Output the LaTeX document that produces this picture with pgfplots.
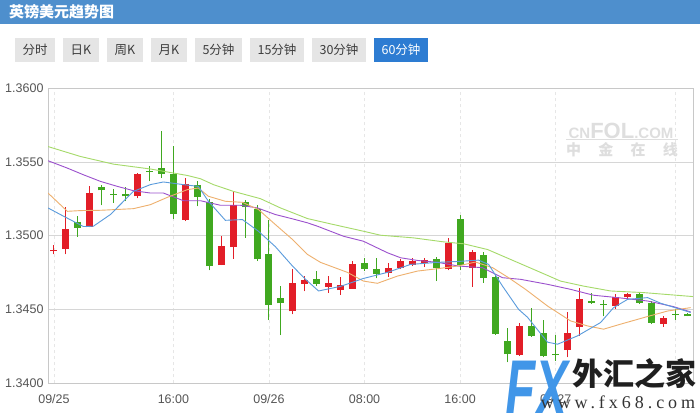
\documentclass[border=0pt]{standalone}
\usepackage{fontspec}
\setmainfont{Liberation Sans}
\newfontfamily\cjk{Noto Sans CJK SC}
\newfontfamily\fxserif[LetterSpace=22]{Liberation Serif}
\usepackage{pgfplots}
\pgfplotsset{compat=1.18}
\usepackage{pgfplotstable}

\definecolor{hdr}{RGB}{78,143,205}
\definecolor{btn}{RGB}{229,229,229}
\definecolor{btntxt}{RGB}{60,60,60}
\definecolor{btnact}{RGB}{45,124,210}
\definecolor{cRed}{RGB}{226,30,40}
\definecolor{cGreen}{RGB}{64,168,32}
\definecolor{maBlue}{RGB}{90,155,220}
\definecolor{maOrange}{RGB}{238,176,110}
\definecolor{maPurple}{RGB}{155,80,205}
\definecolor{maGreen}{RGB}{165,218,105}
\definecolor{gridc}{RGB}{214,214,214}
\definecolor{axc}{RGB}{200,200,200}
\definecolor{lbl}{RGB}{85,85,85}
\definecolor{wm}{RGB}{222,222,222}
\definecolor{fxblue}{RGB}{65,150,232}

% red candles: x low bodybottom bodytop high
\pgfplotstableread{
x lo bb bt hi
0 1.34872 1.34892 1.34902 1.34939
1 1.34872 1.34910 1.35041 1.35194
3 1.35056 1.35056 1.35291 1.35333
7 1.35252 1.35266 1.35419 1.35424
11 1.35097 1.35108 1.35351 1.35390
14 1.34799 1.34799 1.34932 1.35000
15 1.34843 1.34921 1.35209 1.35299
20 1.34466 1.34486 1.34676 1.34770
21 1.34622 1.34670 1.34699 1.34726
23 1.34613 1.34653 1.34676 1.34725
24 1.34597 1.34630 1.34662 1.34721
25 1.34640 1.34640 1.34804 1.34826
28 1.34721 1.34743 1.34782 1.34811
29 1.34775 1.34782 1.34826 1.34838
30 1.34793 1.34802 1.34826 1.34845
31 1.34786 1.34811 1.34836 1.34849
33 1.34764 1.34770 1.34946 1.34984
35 1.34653 1.34779 1.34887 1.34901
39 1.34184 1.34191 1.34385 1.34410
43 1.34174 1.34223 1.34338 1.34484
44 1.34320 1.34383 1.34568 1.34642
47 1.34505 1.34522 1.34586 1.34601
48 1.34568 1.34586 1.34601 1.34613
51 1.34383 1.34403 1.34444 1.34455
}\redtab

% green candles
\pgfplotstableread{
x lo bb bt hi
2 1.34991 1.35052 1.35093 1.35130
4 1.35205 1.35306 1.35326 1.35345
5 1.35221 1.35275 1.35284 1.35318
6 1.35232 1.35266 1.35284 1.35326
8 1.35367 1.35430 1.35439 1.35468
9 1.35390 1.35419 1.35457 1.35711
10 1.35115 1.35149 1.35417 1.35610
12 1.35198 1.35261 1.35345 1.35372
13 1.34764 1.34793 1.35228 1.35248
16 1.34984 1.35191 1.35228 1.35243
17 1.34826 1.34838 1.35180 1.35209
18 1.34426 1.34529 1.34872 1.35108
19 1.34324 1.34540 1.34574 1.34657
22 1.34657 1.34674 1.34703 1.34759
26 1.34759 1.34772 1.34811 1.34849
27 1.34709 1.34738 1.34775 1.34849
32 1.34691 1.34777 1.34843 1.34856
34 1.34764 1.34797 1.35115 1.35142
36 1.34680 1.34711 1.34865 1.34887
37 1.34328 1.34331 1.34718 1.34736
38 1.34140 1.34196 1.34282 1.34376
40 1.34314 1.34320 1.34387 1.34507
41 1.34174 1.34180 1.34338 1.34428
42 1.34151 1.34189 1.34196 1.34324
45 1.34538 1.34543 1.34556 1.34613
46 1.34451 1.34529 1.34534 1.34563
49 1.34538 1.34545 1.34601 1.34617
50 1.34399 1.34410 1.34545 1.34556
52 1.34428 1.34464 1.34471 1.34500
53 1.34451 1.34451 1.34466 1.34478
}\greentab

\begin{document}
\begin{tikzpicture}[x=1bp,y=1bp]
\useasboundingbox (0,0) rectangle (700,-412);
\fill[white] (0,0) rectangle (700,-412);
% header
\fill[hdr] (0,0) rectangle (700,-24);
\node[anchor=west, text=white, inner sep=0pt, font=\cjk\bfseries\fontsize{15bp}{17bp}\selectfont] at (9,-12) {英镑美元趋势图};
% buttons
\foreach \a/\b/\t in {15/55/分时, 63/99/日K, 107/143/周K, 151/187/月K, 195/242/5分钟, 250/304/15分钟, 312/366/30分钟}{
  \fill[btn] (\a,-38) rectangle (\b,-62);
  \node[text=btntxt, inner sep=0pt, font=\cjk\fontsize{12.5bp}{14bp}\selectfont] at ({(\a+\b)/2},-50) {\t};
}
\fill[btnact] (374,-38) rectangle (428,-62);
\node[text=white, inner sep=0pt, font=\cjk\fontsize{12.5bp}{14bp}\selectfont] at (401,-50) {60分钟};
% watermark
\node[text=wm, inner sep=0pt, font=\bfseries] at (621,-131) {{\fontsize{15bp}{15bp}\selectfont CN}{\fontsize{22bp}{22bp}\selectfont FOL}{\fontsize{15bp}{15bp}\selectfont .COM}};
\draw[wm, line width=0.8bp] (566,-139) -- (678,-139);
\node[text=wm, inner sep=0pt, font=\cjk\bfseries\fontsize{15bp}{15bp}\selectfont] at (622,-150) {\makebox[112bp][s]{中\hfill 金\hfill 在\hfill 线}};

\begin{axis}[
  at={(48bp,-383bp)}, anchor=south west,
  scale only axis, width=645bp, height=295bp,
  xmin=-0.5, xmax=53.5, ymin=1.34, ymax=1.36,
  ytick={1.34,1.345,1.35,1.355,1.36},
  xtick={0,10,18,26,34,42,52},
  xticklabels={09/25,16:00,09/26,08:00,16:00,09/27,{}},
  yticklabel style={xshift=-1bp, /pgf/number format/.cd, fixed, fixed zerofill, precision=4, assume math mode=true},
  ticklabel style={font=\fontsize{12.5bp}{14bp}\selectfont, text=lbl},
  xticklabel style={yshift=-8bp},
  major tick length=0pt,
  axis line style={axc},
  xmajorgrids, ymajorgrids,
  major x grid style={draw=gridc!60, dash pattern=on 3bp off 3bp},
  major y grid style={draw=gridc},
]
% wicks
\addplot[draw=none, forget plot, error bars/.cd, y dir=plus, y explicit, error mark=none,
  error bar style={line width=1bp, draw=cRed}]
  table[x=x, y=lo, y error plus expr={\thisrow{hi}-\thisrow{lo}}] {\redtab};
\addplot[draw=none, forget plot, error bars/.cd, y dir=plus, y explicit, error mark=none,
  error bar style={line width=1bp, draw=cGreen}]
  table[x=x, y=lo, y error plus expr={\thisrow{hi}-\thisrow{lo}}] {\greentab};
% bodies
\addplot[draw=none, forget plot, error bars/.cd, y dir=plus, y explicit, error mark=none,
  error bar style={line width=7bp, draw=cRed}]
  table[x=x, y=bb, y error plus expr={\thisrow{bt}-\thisrow{bb}}] {\redtab};
\addplot[draw=none, forget plot, error bars/.cd, y dir=plus, y explicit, error mark=none,
  error bar style={line width=7bp, draw=cGreen}]
  table[x=x, y=bb, y error plus expr={\thisrow{bt}-\thisrow{bb}}] {\greentab};
% moving averages
\addplot[maGreen, line width=0.9bp, mark=none] coordinates {
(-0.5,1.35603) (2.21,1.35536) (4.97,1.35484) (8.07,1.35451) (11.17,1.35407) (12.26,1.35385)
(13.35,1.35345) (15.03,1.35299) (17.28,1.35250) (18.96,1.35187) (21.22,1.35115) (23.15,1.35079)
(25.91,1.35029) (27.34,1.35002) (30.1,1.34984) (32.61,1.34957) (34.29,1.34944) (36.3,1.34905)
(38.22,1.34838) (40.48,1.34759) (42.41,1.34691) (44.34,1.34657) (46.6,1.34624) (49.36,1.34613)
(53.5,1.34586)};
\addplot[maPurple, line width=0.9bp, mark=none] coordinates {
(-0.5,1.35507) (1.12,1.35457) (2.46,1.35412) (3.89,1.35367) (5.31,1.35333) (6.65,1.35304)
(8.07,1.35288) (9.16,1.35288) (10.84,1.35236) (12.26,1.35236) (13.94,1.35205) (15.61,1.35205)
(17.04,1.35187) (18.54,1.35142) (19.97,1.35113) (21.22,1.35086) (22.06,1.35063) (24.24,1.34995)
(25.91,1.34961) (27.92,1.34883) (29.02,1.34849) (30.44,1.34831) (32.12,1.34818) (33.87,1.34793)
(35.88,1.34782) (37.55,1.34714) (39.06,1.34703) (41.32,1.34669) (43.25,1.34635) (45.18,1.34595)
(47.18,1.34579) (49.7,1.34556) (51.87,1.34518) (53.3,1.34482)};
\addplot[maOrange, line width=0.9bp, mark=none] coordinates {
(-0.5,1.35288) (1.12,1.35164) (2.21,1.35169) (3.89,1.35171) (6.65,1.35182) (8.07,1.35209)
(9.5,1.35259) (11.17,1.35311) (12.09,1.35322) (12.93,1.35266) (14.35,1.35232) (15.78,1.35225)
(17.12,1.35176) (18.54,1.35074) (19.97,1.34973) (21.22,1.34872) (22.31,1.34818) (24.57,1.34750)
(25.91,1.34691) (27.08,1.34676) (28.76,1.34725) (30.44,1.34759) (32.12,1.34775) (33.79,1.34793)
(35.29,1.34820) (36.72,1.34782) (38.06,1.34714) (39.48,1.34635) (41.32,1.34522) (43.25,1.34421)
(44.67,1.34387) (46.01,1.34365) (47.44,1.34399) (49.7,1.34451) (51.37,1.34488) (53.3,1.34511)};
\addplot[maBlue, line width=0.9bp, mark=none] coordinates {
(-0.5,1.35187) (0.54,1.35142) (2.46,1.35061) (3.3,1.35063) (4.72,1.35142) (6.65,1.35299)
(8.07,1.35345) (9.16,1.35363) (10.84,1.35345) (12.09,1.35333) (12.93,1.35232) (14.35,1.35103)
(15.78,1.35108) (17.12,1.35029) (18.54,1.34924) (19.97,1.34793) (21.06,1.34703) (22.15,1.34624)
(23.99,1.34655) (25.91,1.34709) (27.92,1.34750) (29.85,1.34804) (32.12,1.34818) (33.79,1.34824)
(35.55,1.34833) (36.39,1.34804) (37.55,1.34657) (38.89,1.34500) (39.64,1.34446) (41.32,1.34277)
(42.16,1.34263) (43.84,1.34320) (45.76,1.34410) (46.85,1.34511) (48.02,1.34567) (49.7,1.34579)
(50.79,1.34541) (53.3,1.34478)};
\end{axis}

% FX logo
\node[anchor=south west, inner sep=0pt, text=fxblue, font=\bfseries\itshape] at (505,-418)
  {\scalebox{0.6}[1]{\fontsize{82bp}{82bp}\selectfont FX}};
\node[inner sep=0pt, text=black!88, font=\cjk\bfseries\fontsize{31bp}{31bp}\selectfont] at (634,-374) {外汇之家};
\node[inner sep=0pt, text=black!80, font=\fxserif\fontsize{18bp}{18bp}\selectfont] at (618,-402) {www.fx68.com};
\end{tikzpicture}
\end{document}
